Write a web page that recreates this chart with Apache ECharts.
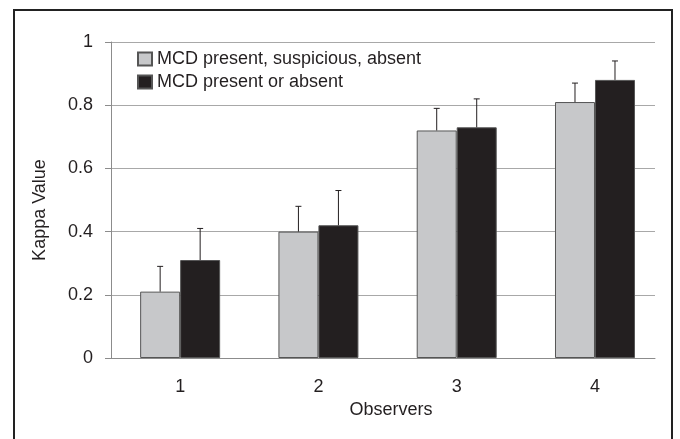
<!DOCTYPE html>
<html>
<head>
<meta charset="utf-8">
<script src="https://cdn.jsdelivr.net/npm/echarts@6/dist/echarts.min.js"></script>
<style>html,body{margin:0;padding:0;background:#fff;}#c{width:680px;height:439px;}</style>
</head>
<body>
<div id="c"></div>
<script>
var observers = [1, 2, 3, 4];
var seriesNames = ['MCD present, suspicious, absent', 'MCD present or absent'];
var kappaThree = [0.21, 0.40, 0.72, 0.81];
var errThree = [0.29, 0.48, 0.79, 0.87];
var kappaTwo = [0.31, 0.42, 0.73, 0.88];
var errTwo = [0.41, 0.53, 0.82, 0.94];
var yTicks = [0, 0.2, 0.4, 0.6, 0.8, 1];

var FONT = 'Liberation Sans, Arial, sans-serif';
var TXT = '#231f20';

function barData(vals) { return observers.map(function (o, i) { return [o, vals[i]]; }); }
function errData(vals, errs) { return observers.map(function (o, i) { return [o, vals[i], errs[i]]; }); }

function errRender(offset) {
  return function (params, api) {
    var x = api.value(0);
    var p0 = api.coord([x, api.value(1)]);
    var p1 = api.coord([x, api.value(2)]);
    var cx = p0[0] + offset;
    var st = { stroke: TXT, lineWidth: 1 };
    return {
      type: 'group',
      children: [
        { type: 'line', shape: { x1: cx, y1: p0[1], x2: cx, y2: p1[1] }, style: st },
        { type: 'line', shape: { x1: cx - 3, y1: p1[1], x2: cx + 3, y2: p1[1] }, style: st }
      ]
    };
  };
}

var chart = echarts.init(document.getElementById('c'));
chart.setOption({
  animation: false,
  backgroundColor: '#fff',
  graphic: [{
    type: 'rect',
    shape: { x: 14, y: 10, width: 658, height: 440 },
    style: { fill: 'none', stroke: '#222', lineWidth: 2 },
    silent: true
  }],
  grid: { left: 111, right: 25, top: 42, bottom: 81 },
  legend: {
    orient: 'vertical',
    left: 132,
    top: 45,
    icon: 'rect',
    itemWidth: 14,
    itemHeight: 13,
    itemGap: 5,
    textStyle: { fontFamily: FONT, fontSize: 18, color: TXT },
    data: seriesNames
  },
  xAxis: {
    type: 'value',
    min: 0.5,
    max: 4.434,
    interval: 0.5,
    name: 'Observers',
    nameLocation: 'middle',
    nameGap: 40,
    nameTextStyle: { fontFamily: FONT, fontSize: 18, color: TXT, padding: [0, 0, 0, 16] },
    axisLine: { lineStyle: { color: '#8c8c8c', width: 1 } },
    axisTick: { show: false },
    splitLine: { show: false },
    axisLabel: {
      fontFamily: FONT, fontSize: 18, color: TXT, margin: 20,
      formatter: function (v) { return observers.indexOf(v) >= 0 ? String(v) : ''; }
    }
  },
  yAxis: {
    type: 'value',
    min: 0,
    max: 1,
    interval: 0.2,
    name: 'Kappa Value',
    nameLocation: 'middle',
    nameGap: 62,
    nameTextStyle: { fontFamily: FONT, fontSize: 18, color: TXT, padding: [0, 20, 0, 0] },
    axisLine: { show: true, lineStyle: { color: '#8c8c8c', width: 1 } },
    axisTick: { show: true, length: 6, lineStyle: { color: '#8c8c8c' } },
    splitLine: { lineStyle: { color: '#a8a8a8', width: 1 } },
    axisLabel: {
      fontFamily: FONT, fontSize: 18, color: TXT, margin: 18,
      formatter: function (v) {
        for (var i = 0; i < yTicks.length; i++) { if (Math.abs(v - yTicks[i]) < 1e-9) return String(yTicks[i]); }
        return '';
      }
    }
  },
  series: [
    {
      name: seriesNames[0], type: 'bar', barWidth: 40, barGap: '0%',
      itemStyle: { color: '#c7c8ca', borderColor: '#555', borderWidth: 1 },
      data: barData(kappaThree), z: 2
    },
    {
      name: seriesNames[1], type: 'bar', barWidth: 40, barGap: '0%',
      itemStyle: { color: '#231f20', borderColor: '#555', borderWidth: 1 },
      data: barData(kappaTwo), z: 2
    },
    {
      type: 'custom', renderItem: errRender(-20), data: errData(kappaThree, errThree), z: 3, silent: true
    },
    {
      type: 'custom', renderItem: errRender(20), data: errData(kappaTwo, errTwo), z: 3, silent: true
    }
  ]
});
</script>
</body>
</html>
